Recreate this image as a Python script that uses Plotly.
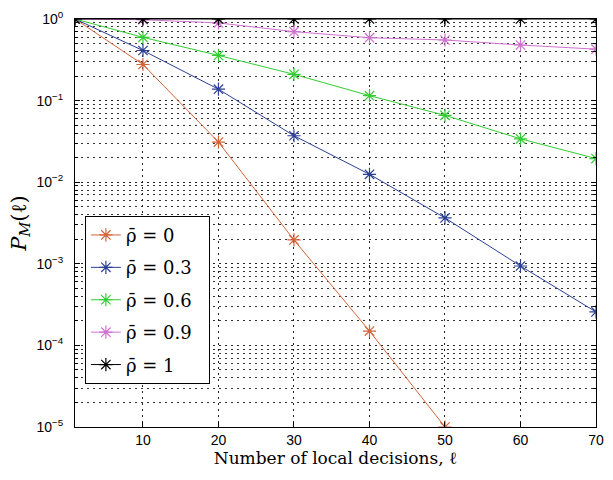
import plotly.graph_objects as go

# Number of local decisions
ell = [1, 10, 20, 30, 40, 50, 60, 70]

# Miss probability P_M(l) for each correlation level
rho_labels = ["0", "0.3", "0.6", "0.9", "1"]
pm_rho0 = [1.0, 0.277, 0.031, 0.00196, 1.5e-4, 1.0e-5]
pm_rho03 = [1.0, 0.411, 0.138, 0.0371, 0.0125, 0.00365, 9.4e-4, 2.57e-4]
pm_rho06 = [1.0, 0.596, 0.358, 0.21, 0.115, 0.066, 0.034, 0.0195]
pm_rho09 = [1.0, 0.98, 0.895, 0.70, 0.59, 0.553, 0.48, 0.427]
pm_rho1 = [1.0, 1.0, 1.0, 1.0, 1.0, 1.0, 1.0, 1.0]

series = [pm_rho0, pm_rho03, pm_rho06, pm_rho09, pm_rho1]
line_colors = ["#d4643a", "#2b3f94", "#33cc33", "#d070d0", "#000000"]
marker_colors = ["#e0442a", "#3355d0", "#33dd33", "#dd66dd", "#222222"]

# Axis ticks
x_ticks = [10, 20, 30, 40, 50, 60, 70]
y_exps = [-5, -4, -3, -2, -1, 0]
y_tickvals = [10.0 ** e for e in y_exps]
y_ticktext = ["10<sup>%s</sup>" % (str(e).replace("-", "\u2212")) for e in y_exps]
y_minor = [m * 10.0 ** e for e in y_exps[:-1] for m in range(2, 10)]

fig = go.Figure()
for i, (lab, vals) in enumerate(zip(rho_labels, series)):
    fig.add_trace(go.Scatter(
        x=ell[:len(vals)], y=vals,
        mode="lines+markers",
        name="\u03c1\u0304 = " + lab + "  ",
        legendgroup="g%d" % i,
        line=dict(color=line_colors[i], width=1),
        marker=dict(symbol="asterisk-open", size=11,
                    line=dict(color=marker_colors[i], width=1.2)),
    ))

grid_dash = "2px,4px"
fig.update_layout(
    width=613, height=480,
    margin=dict(l=75, r=9, t=12, b=53),
    paper_bgcolor="white", plot_bgcolor="white",
    showlegend=True,
    legend=dict(
        x=0.019, y=0.106, xanchor="left", yanchor="bottom",
        bgcolor="white", bordercolor="black", borderwidth=1,
        font=dict(family="DejaVu Serif", size=18, color="black"),
        tracegroupgap=6, traceorder="grouped",
    ),
    xaxis=dict(
        range=[1, 70], tickvals=x_ticks,
        ticks="inside", ticklen=5, tickcolor="black",
        showline=True, linecolor="black", linewidth=1, mirror="ticks",
        showgrid=True, gridcolor="#222222", gridwidth=1, griddash=grid_dash,
        zeroline=False,
        tickfont=dict(family="Liberation Sans", size=14, color="black"),
        title=dict(text="Number of local decisions, \u2113",
                   font=dict(family="DejaVu Serif", size=17, color="black"),
                   standoff=5),
    ),
    yaxis=dict(
        type="log", range=[-5, 0],
        tickvals=y_tickvals, ticktext=y_ticktext,
        ticks="inside", ticklen=5, tickcolor="black",
        ticklabelstandoff=8,
        showline=True, linecolor="black", linewidth=1, mirror="ticks",
        showgrid=True, gridcolor="#222222", gridwidth=1, griddash=grid_dash,
        zeroline=False,
        tickfont=dict(family="Liberation Sans", size=14, color="black"),
        minor=dict(tickvals=y_minor, ticks="inside", ticklen=3, tickcolor="black",
                   showgrid=True, gridcolor="#333333", gridwidth=1, griddash=grid_dash),
        title=dict(text="<i>P</i><sub><i>M</i></sub>(\u2113)",
                   font=dict(family="DejaVu Serif", size=21, color="black"),
                   standoff=4),
    ),
)

fig.write_html("out.html")
